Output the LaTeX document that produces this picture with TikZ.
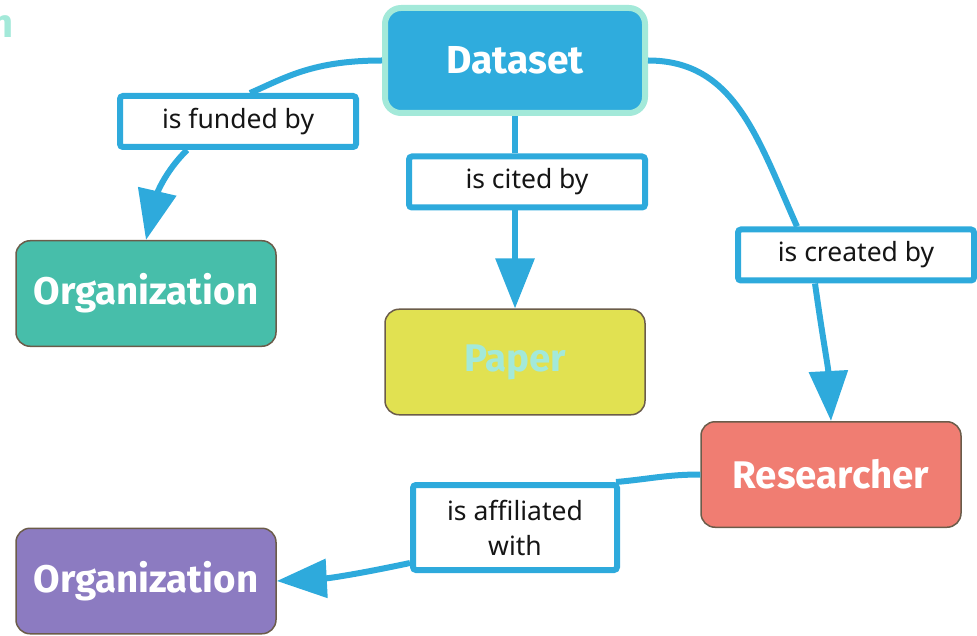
\documentclass[tikz,border=0pt]{standalone}
\usepackage{fontspec}
\setmainfont{Fira Sans}
\newfontfamily\labelfont{Noto Sans}
\usepackage{xcolor}
\usetikzlibrary{arrows.meta}
\definecolor{linkblue}{HTML}{2EAADC}
\definecolor{dsblue}{HTML}{2FACDD}
\definecolor{dsrim}{HTML}{A3E9D9}
\definecolor{rimgray}{HTML}{6B5C4A}
\definecolor{orgteal}{HTML}{47BEAA}
\definecolor{paperyellow}{HTML}{E1E151}
\definecolor{researchsalmon}{HTML}{F07D72}
\definecolor{orgpurple}{HTML}{8C7BC1}
\definecolor{labeltext}{HTML}{151515}

\begin{document}
\begin{tikzpicture}[x=1pt,y=1pt,
  concept/.style={rectangle,rounded corners=14pt,draw=rimgray,line width=1.5pt,
    minimum width=260pt,minimum height=105.5pt,inner sep=0pt,text=white,
    font=\fontsize{38.5}{44}\selectfont\bfseries},
  relation/.style={rectangle,rounded corners=3pt,draw=linkblue,line width=6pt,fill=white,
    minimum width=236pt,minimum height=51pt,inner sep=0pt,text=labeltext,
    font=\labelfont\fontsize{26.5}{35}\selectfont,align=center},
  link/.style={draw=linkblue,line width=6pt},
  linkhead/.style={link,-{Triangle[length=50pt,width=38pt]}}]
  \useasboundingbox (0,0) rectangle (977,-636);
  \node[anchor=base east,inner sep=0pt,text=dsrim,font=\fontsize{40}{48}\selectfont\bfseries] (title) at (14,-38) {n};
  % concepts
  \node[concept,fill=dsblue,draw=dsrim,line width=6pt,minimum height=105pt,rounded corners=16pt,
    font=\fontsize{39}{44}\selectfont\bfseries] (dataset) at (515,-60.5) {Dataset};
  \node[concept,fill=orgteal] (org) at (146,-293.5) {Organization};
  \node[concept,fill=paperyellow,text=dsrim] (paper) at (515,-362) {Paper};
  \node[concept,fill=researchsalmon] (researcher) at (831,-474.5) {Researcher};
  \node[concept,fill=orgpurple] (orgb) at (146,-581) {Organization};
  % relations
  \node[relation] (funded) at (238,-121.5) {is funded by};
  \node[relation] (cited) at (527,-182) {is cited by};
  \node[relation] (created) at (856,-255) {is created by};
  \node[relation,minimum width=204pt,minimum height=85pt] (affil) at (515,-527.5) {is affiliated\\with};
  % links
  \draw[link] (dataset.west) .. controls +(-70,0) and +(35,15) .. ([xshift=12pt]funded.north);
  \draw[linkhead] ([xshift=-51pt]funded.south) to[out=225,in=77] (org.north);
  \draw[link] (dataset.south) -- (dataset.south |- cited.north);
  \draw[linkhead] (dataset.south |- cited.south) -- (paper.north);
  \draw[link] (dataset.east) .. controls +(86,0) and +(-40,90) .. ([xshift=-59pt]created.north);
  \draw[linkhead] ([xshift=-41pt]created.south) to[out=-82,in=93] (researcher.north);
  \draw[link] (researcher.west) to[out=180,in=5] ([xshift=-4pt]affil.north east);
  \draw[linkhead] ([yshift=10pt]affil.south west) to[out=192,in=3] (orgb.east);
\end{tikzpicture}
\end{document}
